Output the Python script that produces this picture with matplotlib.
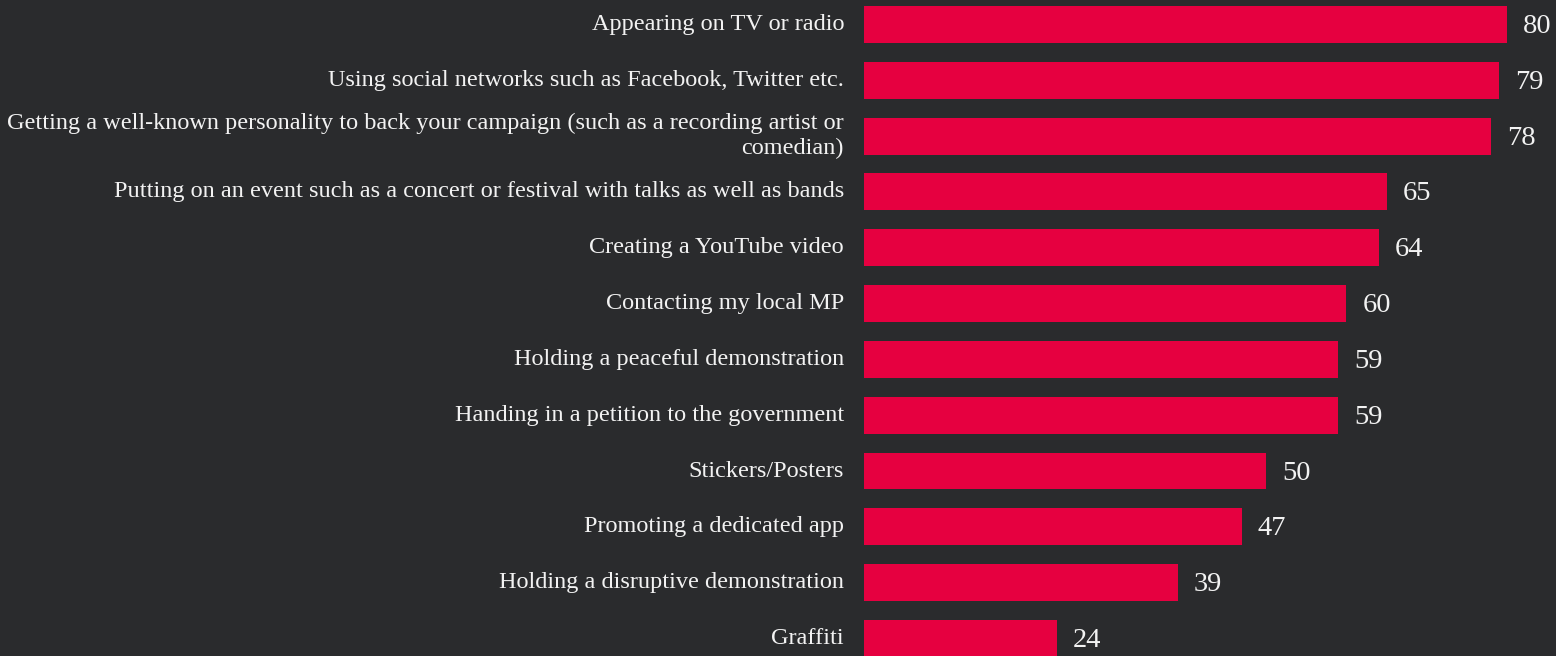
import matplotlib
matplotlib.use("Agg")
import matplotlib.pyplot as plt

# campaign methods and share of respondents (%)
methods = [
    "Appearing on TV or radio",
    "Using social networks such as Facebook, Twitter etc.",
    "Getting a well-known personality to back your campaign (such as a recording artist or\ncomedian)",
    "Putting on an event such as a concert or festival with talks as well as bands",
    "Creating a YouTube video",
    "Contacting my local MP",
    "Holding a peaceful demonstration",
    "Handing in a petition to the government",
    "Stickers/Posters",
    "Promoting a dedicated app",
    "Holding a disruptive demonstration",
    "Graffiti",
]
scores = [80, 79, 78, 65, 64, 60, 59, 59, 50, 47, 39, 24]

BG = "#2a2b2d"
BAR = "#e60040"
FG = "#f2f2f2"

plt.rcParams["font.family"] = ["Liberation Serif", "DejaVu Serif"]

fig = plt.figure(figsize=(15.56, 6.56), dpi=100, facecolor=BG)
ax = fig.add_axes([864 / 1556, 0, 692 / 1556, 1])
ax.set_facecolor(BG)

ypos = list(range(len(methods)))
ax.barh(ypos, scores, height=0.66, color=BAR)

ax.set_xlim(0, 692 / 8.04)
ax.set_ylim(11.3125, -0.4375)

for y, v, name in zip(ypos, scores, methods):
    ax.annotate(str(v), xy=(v, y), xytext=(16, -2), textcoords="offset pixels",
                ha="left", va="center", color=FG, fontsize=20.5,
                annotation_clip=False)
    ax.annotate(name, xy=(0, y), xytext=(-20, 0), textcoords="offset pixels",
                ha="right", va="center", multialignment="right",
                color=FG, fontsize=17.5, annotation_clip=False)

ax.set_xticks([])
ax.set_yticks([])
for s in ax.spines.values():
    s.set_visible(False)

fig.savefig("out.png", dpi=100, facecolor=BG)
